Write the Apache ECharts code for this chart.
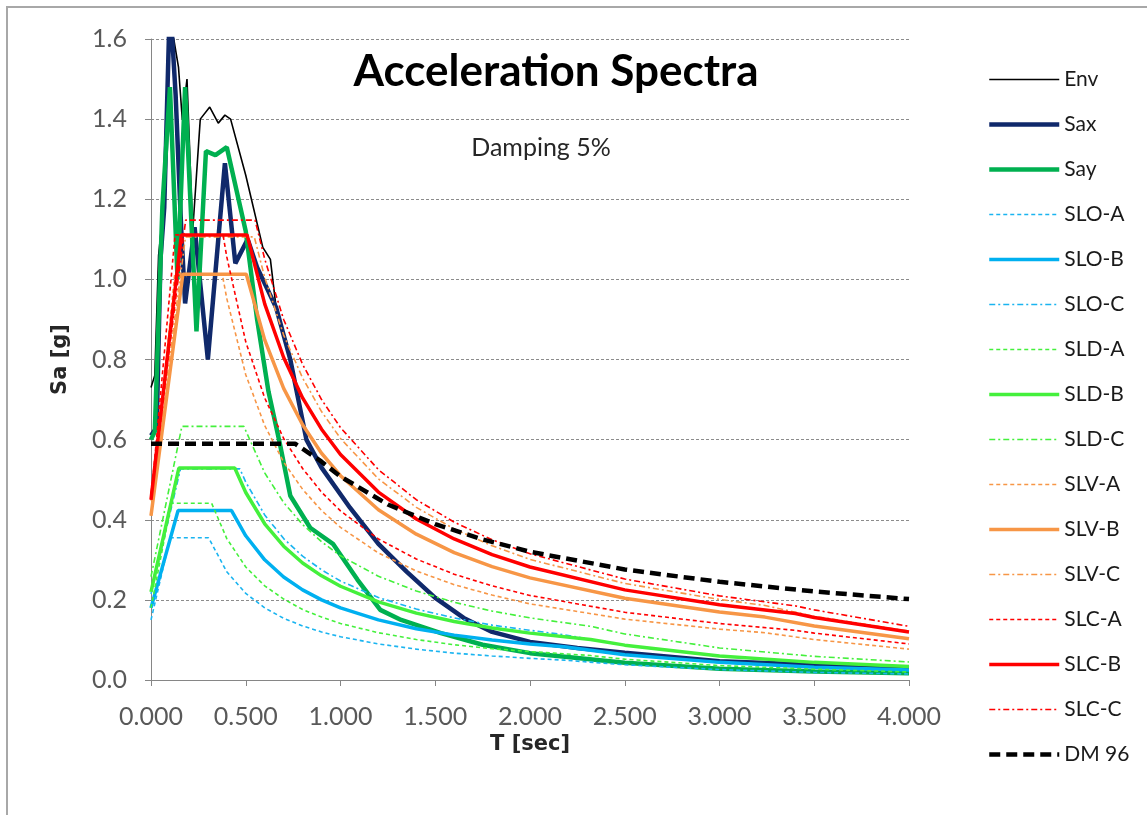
<!DOCTYPE html>
<html>
<head>
<meta charset="utf-8">
<script src="https://cdn.jsdelivr.net/npm/echarts@6/dist/echarts.min.js"></script>
<style>
  html, body { margin: 0; padding: 0; background: #fff; }
  #chart { width: 1147px; height: 815px; }
</style>
</head>
<body>
<div id="chart"></div>
<script>
// recorded spectra [T sec, Sa g]
const envData = [[0, 0.73], [0.02, 0.76], [0.04, 1.06], [0.07, 1.20], [0.10, 1.70], [0.12, 1.60], [0.145, 1.53], [0.165, 1.40], [0.19, 1.50], [0.22, 1.12], [0.26, 1.40], [0.31, 1.43], [0.355, 1.39], [0.39, 1.41], [0.42, 1.40], [0.50, 1.26], [0.59, 1.08], [0.63, 1.05], [0.66, 0.93], [0.735, 0.80], [0.82, 0.60], [0.9, 0.53], [1.05, 0.43], [1.2, 0.34], [1.35, 0.27], [1.5, 0.205], [1.65, 0.155], [1.8, 0.12], [2.0, 0.095], [2.25, 0.08], [2.5, 0.068], [3.0, 0.047], [3.5, 0.038], [4.0, 0.03]]
const saxData = [[0, 0.61], [0.03, 0.63], [0.05, 1.05], [0.07, 1.18], [0.10, 1.70], [0.13, 1.46], [0.16, 1.12], [0.18, 0.94], [0.23, 1.13], [0.30, 0.80], [0.39, 1.29], [0.445, 1.04], [0.51, 1.10], [0.56, 1.03], [0.66, 0.93], [0.735, 0.80], [0.82, 0.60], [0.9, 0.53], [1.05, 0.43], [1.2, 0.34], [1.35, 0.27], [1.5, 0.205], [1.65, 0.155], [1.8, 0.12], [2.0, 0.095], [2.25, 0.08], [2.5, 0.068], [3.0, 0.047], [3.5, 0.038], [4.0, 0.03]]
const sayData = [[0, 0.60], [0.02, 0.62], [0.04, 0.90], [0.06, 1.18], [0.10, 1.48], [0.14, 1.00], [0.18, 1.48], [0.24, 0.87], [0.29, 1.32], [0.34, 1.31], [0.40, 1.33], [0.50, 1.12], [0.56, 0.90], [0.62, 0.72], [0.68, 0.59], [0.735, 0.46], [0.84, 0.38], [0.96, 0.34], [1.09, 0.25], [1.21, 0.175], [1.32, 0.15], [1.53, 0.117], [1.75, 0.088], [2.0, 0.067], [2.5, 0.043], [3.0, 0.028], [3.5, 0.021], [4.0, 0.017]]

// code spectra
const sloA = [[0, 0.15], [0.101, 0.355], [0.304, 0.355], [0.4, 0.270], [0.5, 0.216], [0.6, 0.180], [0.7, 0.154], [0.8, 0.135], [0.9, 0.120], [1.0, 0.108], [1.2, 0.090], [1.4, 0.077], [1.6, 0.067], [1.8, 0.060], [2.0, 0.054], [2.18, 0.0495], [2.5, 0.038], [3.0, 0.026], [3.5, 0.019], [4.0, 0.015]]
const sloB = [[0, 0.18], [0.143, 0.423], [0.425, 0.423], [0.5, 0.360], [0.6, 0.300], [0.7, 0.257], [0.8, 0.225], [0.9, 0.200], [1.0, 0.180], [1.2, 0.150], [1.4, 0.128], [1.6, 0.112], [1.8, 0.100], [2.0, 0.090], [2.18, 0.083], [2.5, 0.063], [3.0, 0.044], [3.5, 0.032], [4.0, 0.025]]
const sloC = [[0, 0.215], [0.156, 0.527], [0.469, 0.527], [0.5, 0.494], [0.6, 0.412], [0.7, 0.353], [0.8, 0.309], [0.9, 0.275], [1.0, 0.247], [1.2, 0.206], [1.4, 0.177], [1.6, 0.155], [1.8, 0.137], [2.0, 0.124], [2.18, 0.113], [2.5, 0.086], [3.0, 0.060], [3.5, 0.044], [4.0, 0.034]]
const sldA = [[0, 0.18], [0.107, 0.441], [0.32, 0.441], [0.4, 0.353], [0.5, 0.282], [0.6, 0.235], [0.7, 0.202], [0.8, 0.176], [0.9, 0.157], [1.0, 0.141], [1.2, 0.118], [1.4, 0.101], [1.6, 0.088], [1.8, 0.078], [2.0, 0.071], [2.32, 0.061], [2.5, 0.052], [3.0, 0.036], [3.5, 0.027], [4.0, 0.020]]
const sldB = [[0, 0.22], [0.147, 0.529], [0.442, 0.529], [0.5, 0.468], [0.6, 0.390], [0.7, 0.334], [0.8, 0.292], [0.9, 0.260], [1.0, 0.234], [1.2, 0.195], [1.4, 0.167], [1.6, 0.146], [1.8, 0.130], [2.0, 0.117], [2.32, 0.101], [2.5, 0.087], [3.0, 0.060], [3.5, 0.044], [4.0, 0.034]]
const sldC = [[0, 0.258], [0.163, 0.633], [0.49, 0.633], [0.6, 0.517], [0.7, 0.443], [0.8, 0.388], [0.9, 0.345], [1.0, 0.310], [1.2, 0.259], [1.4, 0.222], [1.6, 0.194], [1.8, 0.172], [2.0, 0.155], [2.32, 0.134], [2.5, 0.115], [3.0, 0.080], [3.5, 0.059], [4.0, 0.045]]
const slvA = [[0, 0.41], [0.125, 1.013], [0.376, 1.013], [0.4, 0.952], [0.5, 0.762], [0.6, 0.635], [0.7, 0.544], [0.8, 0.476], [0.9, 0.423], [1.0, 0.381], [1.2, 0.317], [1.4, 0.272], [1.6, 0.238], [1.8, 0.212], [2.0, 0.190], [2.5, 0.152], [3.0, 0.127], [3.24, 0.118], [3.5, 0.101], [4.0, 0.077]]
const slvB = [[0, 0.41], [0.168, 1.013], [0.503, 1.013], [0.6, 0.849], [0.7, 0.728], [0.8, 0.637], [0.9, 0.566], [1.0, 0.510], [1.2, 0.425], [1.4, 0.364], [1.6, 0.318], [1.8, 0.283], [2.0, 0.255], [2.5, 0.204], [3.0, 0.170], [3.24, 0.157], [3.5, 0.135], [4.0, 0.103]]
const slvC = [[0, 0.448], [0.182, 1.106], [0.545, 1.106], [0.6, 1.005], [0.7, 0.861], [0.8, 0.754], [0.9, 0.670], [1.0, 0.603], [1.2, 0.502], [1.4, 0.431], [1.6, 0.377], [1.8, 0.335], [2.0, 0.301], [2.5, 0.241], [3.0, 0.201], [3.24, 0.186], [3.5, 0.159], [4.0, 0.122]]
const slcA = [[0, 0.45], [0.127, 1.111], [0.38, 1.111], [0.4, 1.056], [0.5, 0.844], [0.6, 0.704], [0.7, 0.603], [0.8, 0.528], [0.9, 0.469], [1.0, 0.422], [1.2, 0.352], [1.4, 0.302], [1.6, 0.264], [1.8, 0.235], [2.0, 0.211], [2.5, 0.169], [3.0, 0.141], [3.4, 0.124], [3.5, 0.117], [4.0, 0.090]]
const slcB = [[0, 0.45], [0.16, 1.111], [0.507, 1.111], [0.6, 0.939], [0.7, 0.805], [0.8, 0.704], [0.9, 0.626], [1.0, 0.563], [1.2, 0.469], [1.4, 0.402], [1.6, 0.352], [1.8, 0.313], [2.0, 0.282], [2.5, 0.225], [3.0, 0.188], [3.4, 0.166], [3.5, 0.156], [4.0, 0.120]]
const slcC = [[0, 0.465], [0.183, 1.148], [0.549, 1.148], [0.6, 1.051], [0.7, 0.900], [0.8, 0.788], [0.9, 0.700], [1.0, 0.630], [1.2, 0.525], [1.4, 0.450], [1.6, 0.394], [1.8, 0.350], [2.0, 0.315], [2.5, 0.252], [3.0, 0.210], [3.4, 0.185], [3.5, 0.175], [4.0, 0.134]]
const dm96 = [[0, 0.59], [0.76, 0.59], [0.9, 0.545], [1.0, 0.508], [1.25, 0.438], [1.5, 0.389], [1.75, 0.351], [2.0, 0.320], [2.5, 0.276], [3.0, 0.245], [3.5, 0.221], [4.0, 0.202]]

const seriesNames = ['Env', 'Sax', 'Say', 'SLO-A', 'SLO-B', 'SLO-C', 'SLD-A', 'SLD-B', 'SLD-C', 'SLV-A', 'SLV-B', 'SLV-C', 'SLC-A', 'SLC-B', 'SLC-C', 'DM 96']
const seriesData = [envData, saxData, sayData, sloA, sloB, sloC, sldA, sldB, sldC, slvA, slvB, slvC, slcA, slcB, slcC, dm96]

const DASH_A = [4, 3]
const DASH_C = [6, 3, 2, 3]
const styles = [
  { color: '#000000', width: 1.6, type: 'solid' },
  { color: '#10296b', width: 4.5, type: 'solid' },
  { color: '#00b050', width: 4.5, type: 'solid' },
  { color: '#1ab4f0', width: 1.6, type: DASH_A },
  { color: '#00b0f0', width: 3.5, type: 'solid' },
  { color: '#1ab4f0', width: 1.6, type: DASH_C },
  { color: '#44f03c', width: 1.6, type: DASH_A },
  { color: '#44f03c', width: 3.5, type: 'solid' },
  { color: '#44f03c', width: 1.6, type: DASH_C },
  { color: '#f79646', width: 1.6, type: DASH_A },
  { color: '#f79646', width: 3.5, type: 'solid' },
  { color: '#f79646', width: 1.6, type: DASH_C },
  { color: '#ff0000', width: 1.6, type: DASH_A },
  { color: '#ff0000', width: 3.5, type: 'solid' },
  { color: '#ff0000', width: 1.6, type: DASH_C },
  { color: '#000000', width: 4.5, type: [11, 6] }
]

var series = seriesNames.map(function (name, i) {
  return {
    name: name,
    type: 'line',
    data: seriesData[i],
    symbol: 'none',
    showSymbol: false,
    clip: true,
    animation: false,
    color: styles[i].color,
    lineStyle: { color: styles[i].color, width: styles[i].width, type: styles[i].type }
  }
})

var labelFont = { fontFamily: 'Lato', fontSize: 25, color: '#595959' }

var option = {
  backgroundColor: '#ffffff',
  animation: false,
  grid: { left: 151, right: 238, top: 39, bottom: 135, containLabel: false },
  xAxis: {
    type: 'value',
    min: 0,
    max: 4,
    interval: 0.5,
    name: 'T [sec]',
    nameLocation: 'middle',
    nameGap: 54,
    nameTextStyle: { fontFamily: 'DejaVu Sans', fontWeight: 'bold', fontSize: 21, color: '#262626' },
    axisLine: { lineStyle: { color: '#868686', width: 1 } },
    axisTick: { show: true, inside: false, length: 6, lineStyle: { color: '#868686' } },
    axisLabel: Object.assign({ margin: 24, formatter: function (v) { return v.toFixed(3) } }, labelFont),
    splitLine: { show: false }
  },
  yAxis: {
    type: 'value',
    min: 0,
    max: 1.6,
    interval: 0.2,
    name: 'Sa [g]',
    nameLocation: 'middle',
    nameGap: 80,
    nameTextStyle: { fontFamily: 'DejaVu Sans', fontWeight: 'bold', fontSize: 21, color: '#262626' },
    axisLine: { show: true, lineStyle: { color: '#868686', width: 1 } },
    axisTick: { show: true, inside: false, length: 6, lineStyle: { color: '#868686' } },
    axisLabel: Object.assign({ margin: 24, formatter: function (v) { return v.toFixed(1) } }, labelFont),
    splitLine: { show: true, lineStyle: { color: '#8c8c8c', width: 1, type: [3, 2] } }
  },
  legend: {
    orient: 'vertical',
    left: 982,
    top: 64,
    itemWidth: 70,
    itemHeight: 14,
    itemGap: 24,
    data: seriesNames,
    itemStyle: { opacity: 0 },
    lineStyle: { width: 'inherit' },
    textStyle: { fontFamily: 'Lato', fontSize: 21, color: '#1a1a1a' }
  },
  graphic: [
    {
      type: 'rect',
      silent: true,
      shape: { x: 7, y: 7, width: 1200, height: 900 },
      style: { fill: 'none', stroke: '#a8a8a8', lineWidth: 2 }
    },
    {
      type: 'text',
      x: 556,
      y: 72,
      style: { text: 'Acceleration Spectra', fontFamily: 'Lato', fontWeight: 'bold', fontSize: 44, fill: '#000000', textAlign: 'center', textVerticalAlign: 'middle' }
    },
    {
      type: 'text',
      x: 541,
      y: 148,
      style: { text: 'Damping 5%', fontFamily: 'Lato', fontSize: 25, fill: '#262626', textAlign: 'center', textVerticalAlign: 'middle' }
    }
  ],
  series: series
}

var chart = echarts.init(document.getElementById('chart'), null, { renderer: 'canvas' })
chart.setOption(option)
</script>
</body>
</html>
